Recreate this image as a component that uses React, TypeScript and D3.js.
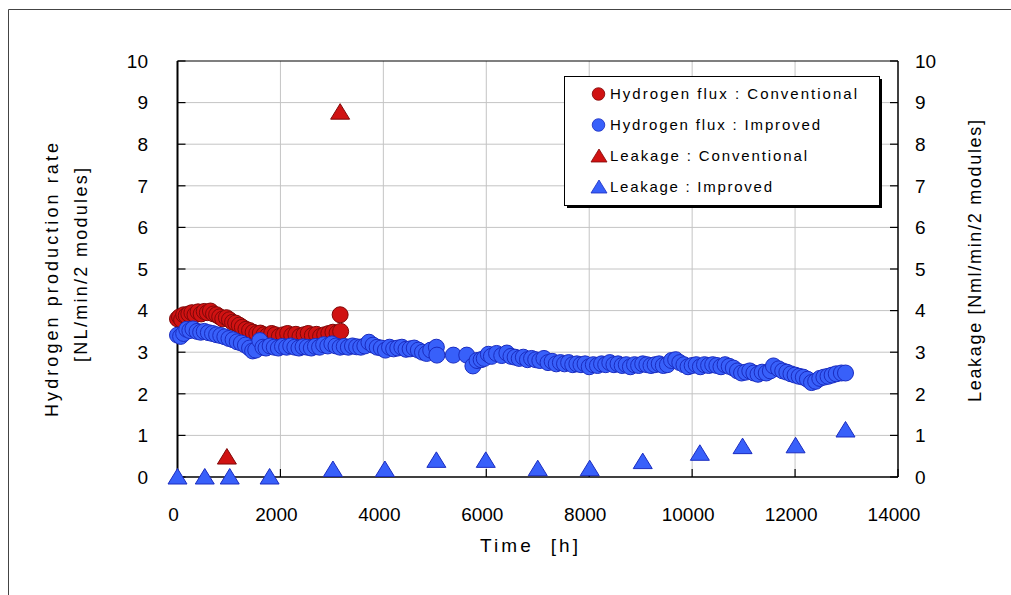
import React from 'react';
import * as d3 from 'd3';

// [time h, value]
const fluxConventional: [number, number][] = [
  [0, 3.8], [40, 3.85], [80, 3.78], [120, 3.9], [170, 3.88], [220, 3.92], [280, 3.95],
  [340, 3.9], [400, 3.97], [460, 3.92], [520, 3.98], [580, 3.95], [640, 3.99], [700, 3.92],
  [760, 3.9], [820, 3.85], [880, 3.8], [950, 3.83], [1010, 3.78], [1070, 3.72], [1130, 3.7],
  [1200, 3.65], [1260, 3.6], [1330, 3.55], [1400, 3.52], [1470, 3.48], [1540, 3.45],
  [1610, 3.46], [1680, 3.42], [1750, 3.4], [1830, 3.45], [1900, 3.42], [1980, 3.38],
  [2060, 3.42], [2140, 3.45], [2220, 3.4], [2300, 3.43], [2380, 3.38], [2460, 3.42],
  [2540, 3.45], [2620, 3.4], [2700, 3.43], [2780, 3.38], [2860, 3.42], [2940, 3.45],
  [3020, 3.48], [3100, 3.46], [3160, 3.9], [3170, 3.5],
];

const fluxImproved: [number, number][] = [
  [0, 3.41], [60, 3.38], [120, 3.45], [180, 3.55], [240, 3.52], [300, 3.56], [380, 3.5],
  [450, 3.48], [520, 3.5], [600, 3.47], [680, 3.45], [760, 3.42], [840, 3.4], [920, 3.37],
  [1000, 3.33], [1080, 3.3], [1160, 3.25], [1240, 3.22], [1320, 3.17], [1400, 3.1],
  [1460, 3.03], [1520, 3.05], [1600, 3.28], [1660, 3.12], [1720, 3.1], [1800, 3.15],
  [1880, 3.12], [1960, 3.1], [2040, 3.14], [2120, 3.12], [2200, 3.15], [2280, 3.12],
  [2360, 3.1], [2440, 3.13], [2520, 3.12], [2600, 3.1], [2680, 3.14], [2760, 3.12],
  [2840, 3.18], [2920, 3.15], [3000, 3.2], [3080, 3.15], [3160, 3.12], [3240, 3.14],
  [3320, 3.12], [3400, 3.15], [3480, 3.13], [3560, 3.12], [3640, 3.15], [3720, 3.24],
  [3800, 3.17], [3880, 3.12], [3960, 3.1], [4040, 3.05], [4120, 3.12], [4200, 3.08],
  [4280, 3.1], [4360, 3.12], [4440, 3.07], [4520, 3.08], [4600, 3.1], [4680, 3.05],
  [4760, 3.0], [4840, 2.97], [4920, 3.05], [5030, 3.12], [5040, 2.93], [5360, 2.93],
  [5620, 2.93], [5740, 2.67], [5820, 2.8], [5900, 2.82], [5960, 2.85], [6040, 2.95],
  [6100, 2.9], [6200, 2.97], [6300, 2.92], [6400, 2.98], [6480, 2.9], [6560, 2.88],
  [6640, 2.85], [6720, 2.88], [6800, 2.82], [6880, 2.85], [6960, 2.82], [7040, 2.8],
  [7120, 2.85], [7200, 2.75], [7280, 2.78], [7360, 2.72], [7440, 2.75], [7520, 2.72],
  [7600, 2.75], [7680, 2.7], [7760, 2.72], [7840, 2.7], [7920, 2.72], [8000, 2.65],
  [8080, 2.7], [8160, 2.68], [8240, 2.72], [8320, 2.7], [8400, 2.75], [8480, 2.7],
  [8560, 2.72], [8640, 2.68], [8720, 2.7], [8800, 2.65], [8880, 2.7], [8960, 2.68],
  [9040, 2.72], [9120, 2.7], [9200, 2.68], [9280, 2.7], [9360, 2.72], [9440, 2.68],
  [9520, 2.7], [9600, 2.8], [9680, 2.82], [9760, 2.75], [9840, 2.7], [9920, 2.65],
  [10000, 2.68], [10080, 2.7], [10160, 2.65], [10240, 2.7], [10320, 2.68], [10400, 2.7],
  [10480, 2.68], [10560, 2.65], [10640, 2.7], [10720, 2.66], [10800, 2.62], [10880, 2.55],
  [10960, 2.5], [11040, 2.52], [11120, 2.55], [11200, 2.5], [11280, 2.47], [11360, 2.52],
  [11440, 2.5], [11520, 2.55], [11580, 2.67], [11680, 2.6], [11760, 2.55], [11840, 2.52],
  [11920, 2.48], [12000, 2.45], [12080, 2.42], [12160, 2.4], [12240, 2.35], [12320, 2.27],
  [12400, 2.3], [12480, 2.37], [12560, 2.4], [12640, 2.42], [12720, 2.45], [12800, 2.48],
  [12900, 2.5], [12980, 2.5],
];

const leakConventional: [number, number][] = [[960, 0.48], [3160, 8.77]];

const leakImproved: [number, number][] = [
  [0, 0], [530, 0], [1015, 0], [1790, 0], [3020, 0.18], [4030, 0.18], [5030, 0.4],
  [5990, 0.4], [7000, 0.2], [8010, 0.2], [9040, 0.37], [10150, 0.57], [10980, 0.73],
  [12010, 0.75], [12980, 1.13],
];

const xTicks = [0, 2000, 4000, 6000, 8000, 10000, 12000, 14000];
const yTicks = [0, 1, 2, 3, 4, 5, 6, 7, 8, 9, 10];

const legendItems = [
  { label: 'Hydrogen flux : Conventional', shape: 'circle', color: 'red', len: 247 },
  { label: 'Hydrogen flux : Improved', shape: 'circle', color: 'blue', len: 210 },
  { label: 'Leakage : Conventional', shape: 'triangle', color: 'red', len: 197 },
  { label: 'Leakage : Improved', shape: 'triangle', color: 'blue', len: 162 },
];

const colors: Record<string, { fill: string; stroke: string }> = {
  red: { fill: '#d01212', stroke: '#800808' },
  blue: { fill: '#3860fa', stroke: '#1a2cc0' },
};

const tri = 'M0,-8.5L9.5,7L-9.5,7Z';

export default function App() {
  const left = 177.5, right = 898, top = 61, bottom = 477;
  const x = d3.scaleLinear().domain([0, 14000]).range([left, right]);
  const y = d3.scaleLinear().domain([0, 10]).range([bottom, top]);
  const font = '"Liberation Sans", Arial, sans-serif';

  return (
    <svg width={1011} height={595} style={{ position: 'absolute', left: 0, top: 0, background: '#fff' }}
      fontFamily={font}>
      <path d="M8.5,600V9.5H1020" fill="none" stroke="#444" strokeWidth={1} />

      {/* grid */}
      {yTicks.slice(1, -1).map(t => (
        <line key={'gy' + t} x1={left} x2={right} y1={y(t)} y2={y(t)} stroke="#c4c4c4" strokeWidth={1} />
      ))}
      {xTicks.slice(1, -1).map(t => (
        <line key={'gx' + t} x1={x(t)} x2={x(t)} y1={top} y2={bottom} stroke="#c4c4c4" strokeWidth={1} />
      ))}

      {/* frame */}
      <line x1={left} x2={right} y1={top} y2={top} stroke="#000" strokeWidth={1.2} />
      <line x1={right} x2={right} y1={top} y2={bottom} stroke="#000" strokeWidth={1.5} />
      <line x1={left} x2={right} y1={bottom} y2={bottom} stroke="#000" strokeWidth={1.5} />
      <line x1={left} x2={left} y1={top} y2={bottom} stroke="#000" strokeWidth={2} />

      {/* ticks */}
      {yTicks.map(t => (
        <g key={'ty' + t}>
          <line x1={left} x2={left + 8} y1={y(t)} y2={y(t)} stroke="#000" strokeWidth={1.2} />
          <line x1={right - 8} x2={right} y1={y(t)} y2={y(t)} stroke="#000" strokeWidth={1.2} />
          <text x={148} y={y(t)} dy="0.36em" textAnchor="end" fontSize={19}>{t}</text>
          <text x={915} y={y(t)} dy="0.36em" textAnchor="start" fontSize={19}>{t}</text>
        </g>
      ))}
      {xTicks.map(t => (
        <g key={'tx' + t}>
          <line x1={x(t)} x2={x(t)} y1={bottom} y2={bottom - 8} stroke="#000" strokeWidth={1.2} />
          <text x={x(t) - 4} y={521} textAnchor="middle" fontSize={19}>{t}</text>
        </g>
      ))}

      {/* axis titles */}
      <text x={480} y={552} fontSize={19} textLength={98} lengthAdjust="spacing" style={{ whiteSpace: 'pre' }}>Time  [h]</text>
      <text transform="translate(58,280) rotate(-90)" textAnchor="middle" fontSize={18}
        textLength={274} lengthAdjust="spacing">Hydrogen production rate</text>
      <text transform="translate(87,265) rotate(-90)" textAnchor="middle" fontSize={18}
        textLength={194} lengthAdjust="spacing">[NL/min/2 modules]</text>
      <text transform="translate(981,261) rotate(-90)" textAnchor="middle" fontSize={18}
        textLength={282} lengthAdjust="spacing">Leakage [Nml/min/2 modules]</text>

      {/* data */}
      {fluxConventional.map(([t, v], i) => (
        <circle key={'fc' + i} cx={x(t)} cy={y(v)} r={8} fill={colors.red.fill} stroke={colors.red.stroke} strokeWidth={1} />
      ))}
      {fluxImproved.map(([t, v], i) => (
        <circle key={'fi' + i} cx={x(t)} cy={y(v)} r={8} fill={colors.blue.fill} stroke={colors.blue.stroke} strokeWidth={1} />
      ))}
      {leakConventional.map(([t, v], i) => (
        <path key={'lc' + i} d={tri} transform={`translate(${x(t)},${y(v)})`} fill={colors.red.fill} stroke={colors.red.stroke} strokeWidth={1} />
      ))}
      {leakImproved.map(([t, v], i) => (
        <path key={'li' + i} d={tri} transform={`translate(${x(t)},${y(v)})`} fill={colors.blue.fill} stroke={colors.blue.stroke} strokeWidth={1} />
      ))}

      {/* legend */}
      <rect x={567} y={79} width={315} height={129} fill="#000" />
      <rect x={564.5} y={76.5} width={315} height={129} fill="#fff" stroke="#000" strokeWidth={1} />
      {legendItems.map((d, i) => {
        const cy = 94 + i * 31;
        const c = colors[d.color];
        return (
          <g key={d.label}>
            {d.shape === 'circle'
              ? <circle cx={598.5} cy={cy} r={6.3} fill={c.fill} stroke={c.stroke} strokeWidth={0.8} />
              : <path d="M0,-7L8,6L-8,6Z" transform={`translate(599,${cy})`} fill={c.fill} stroke={c.stroke} strokeWidth={0.8} />}
            <text x={610} y={cy} dy="0.36em" fontSize={15} textLength={d.len} lengthAdjust="spacing">{d.label}</text>
          </g>
        );
      })}
    </svg>
  );
}
